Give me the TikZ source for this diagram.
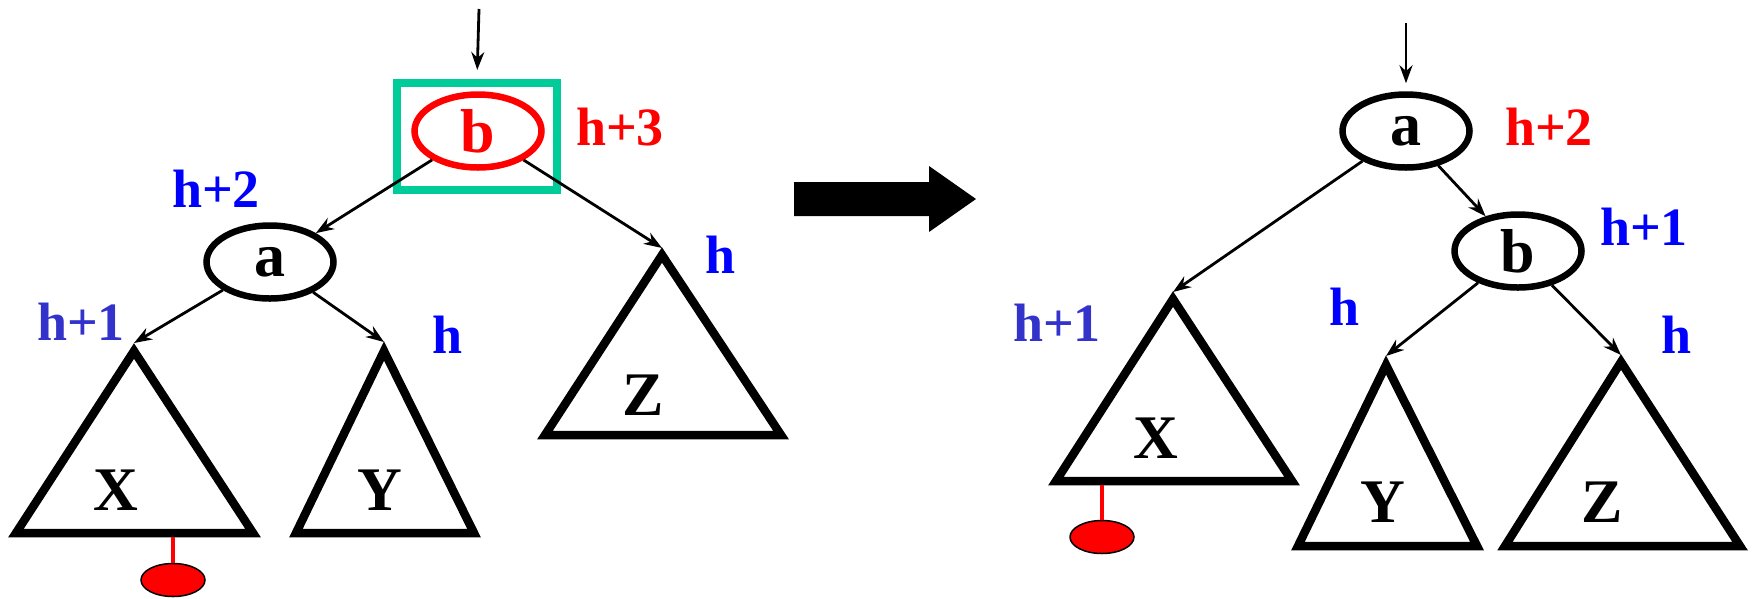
\documentclass[tikz,border=0pt]{standalone}
\usepackage{fontspec}
\setmainfont{Liberation Serif}
\usetikzlibrary{shapes.geometric,arrows.meta}
\definecolor{tealg}{RGB}{0,204,153}
\definecolor{hblue}{RGB}{0,0,255}
\definecolor{hslate}{RGB}{51,51,204}
\begin{document}
\begin{tikzpicture}[x=1pt,y=-1pt,
  treenode/.style={ellipse,draw,line width=6.5pt,minimum width=127pt,minimum height=73pt,inner sep=0pt,font=\fontsize{62}{62}\selectfont\bfseries},
  edge/.style={line width=2.8pt,-{Stealth[length=18pt,width=13pt]}},
  tri/.style={line width=8.5pt,line join=miter},
  sub/.style={font=\fontsize{62}{62}\selectfont\bfseries,inner sep=0pt},
  lbl/.style={font=\fontsize{54}{54}\selectfont\bfseries,inner sep=0pt},
  selbox/.style={draw=tealg,line width=8pt,minimum width=160pt,minimum height=107pt,inner sep=0pt},
  ball/.style={ellipse,draw=black,fill=red,line width=1.5pt,minimum width=64pt,minimum height=33pt,inner sep=0pt},
  pend/.style={red,line width=4.5pt}]
\useasboundingbox (0,0) rectangle (1755,598);
% ---------------- left tree ----------------
\node[selbox] (sel) at (477,136.5) {};
\node[treenode,draw=red,text=red] (lb) at (478,131) {b};
\node[treenode] (la) at (270,262) {a};
\coordinate (lstart) at (479,9);
\draw[edge,shorten >=9pt] (lstart) -- (sel.north);
% triangles
\coordinate (lXtop) at (134,343);
\coordinate (lYtop) at (384,342);
\coordinate (lZtop) at (662,248);
\draw[tri] (134,351) -- (16,533) -- (253,533) -- cycle;
\draw[tri] (384,351) -- (296,533) -- (474,533) -- cycle;
\draw[tri] (662,255) -- (545,435) -- (781,435) -- cycle;
\node[sub] (lX) at (116,490) {X};
\node[sub] (lY) at (380,490) {Y};
\node[sub] (lZ) at (643,395) {Z};
\draw[edge] (lb) -- (la);
\draw[edge] (lb) -- (lZtop);
\draw[edge] (la) -- (lXtop);
\draw[edge] (la) -- (lYtop);
% pendulum
\coordinate (lXbot) at (173,537);
\node[ball] (lball) at (173,580) {};
\draw[pend] (lXbot) -- (lball.north);
% labels
\node[lbl,text=red] (lh3) at (620,127) {h+3};
\node[lbl,text=hblue] (lh2) at (216,189) {h+2};
\node[lbl,text=hblue] (lhZ) at (721,255) {h};
\node[lbl,text=hslate] (lh1) at (81,322) {h+1};
\node[lbl,text=hblue] (lhY) at (448,335) {h};
% ---------------- big arrow ----------------
\fill (794,182) -- (929,182) -- (929,166) -- (976,199) -- (929,232) -- (929,216) -- (794,216) -- cycle;
% ---------------- right tree ----------------
\node[treenode] (ra) at (1406,131) {a};
\node[treenode] (rb) at (1518,251) {b};
\coordinate (rstart) at (1406,23);
\draw[edge,shorten >=8pt] (rstart) -- (ra.north);
\coordinate (rXtop) at (1173,292);
\coordinate (rYtop) at (1386,356);
\coordinate (rZtop) at (1621,355);
\draw[tri] (1173,299) -- (1056,481) -- (1292,481) -- cycle;
\draw[tri] (1386,365) -- (1298,546) -- (1477,546) -- cycle;
\draw[tri] (1621,362) -- (1505,546) -- (1740,546) -- cycle;
\node[sub] (rX) at (1156,438) {X};
\node[sub] (rY) at (1383,502) {Y};
\node[sub] (rZ) at (1602,502) {Z};
\draw[edge] (ra) -- (rb);
\draw[edge] (ra) -- (rXtop);
\draw[edge] (rb) -- (rYtop);
\draw[edge] (rb) -- (rZtop);
\coordinate (rXbot) at (1102,485);
\node[ball] (rball) at (1102,537) {};
\draw[pend] (rXbot) -- (rball.north);
\node[lbl,text=red] (rh2) at (1549,127) {h+2};
\node[lbl,text=hblue] (rh1) at (1644,227) {h+1};
\node[lbl,text=hblue] (rhY) at (1344,307) {h};
\node[lbl,text=hslate] (rhX) at (1057,323) {h+1};
\node[lbl,text=hblue] (rhZ) at (1676,335) {h};
\end{tikzpicture}
\end{document}
